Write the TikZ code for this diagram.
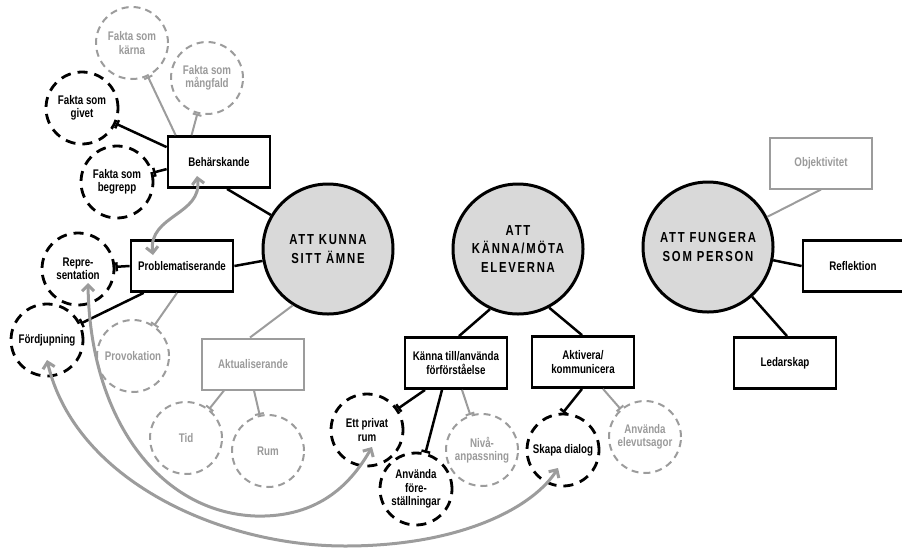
\documentclass[tikz,border=0pt]{standalone}
\usepackage{fontspec}
\setmainfont{Liberation Sans}[FakeStretch=0.78]
\usetikzlibrary{arrows.meta}

\definecolor{hubfill}{HTML}{D9D9D9}
\definecolor{greyline}{HTML}{9C9C9C}
\definecolor{greytext}{HTML}{9A9A9A}

\newcommand{\lblfont}{\bfseries\fontsize{12.5}{13.5}\selectfont}
\newcommand{\hubfont}{\bfseries\fontsize{14.5}{18.5}\selectfont\addfontfeatures{LetterSpace=12}}

\tikzset{
  hub/.style={circle, draw=black, line width=3pt, fill=hubfill, minimum size=130pt,
    inner sep=0pt, align=center, font=\hubfont},
  topic/.style={rectangle, draw=black, line width=2.8pt, minimum width=102pt,
    minimum height=51pt, inner sep=0pt, align=center, font=\lblfont},
  greytopic/.style={topic, draw=greyline, line width=2pt, text=greytext},
  idea/.style={circle, draw=black, line width=2.8pt, dash pattern=on 10pt off 7pt,
    minimum size=72pt, inner sep=0pt, align=center, font=\lblfont},
  greyidea/.style={idea, draw=greyline, line width=2pt, dash pattern=on 7pt off 5pt,
    text=greytext},
  link/.style={draw=black, line width=2.5pt},
  greylink/.style={draw=greyline, line width=2pt},
  barend/.style={-{Bar[width=9pt]}},
  loop/.style={draw=greyline, line width=3pt,
    {Straight Barb[length=6pt,width=12pt]}-{Straight Barb[length=6pt,width=12pt]}}
}

\begin{document}
\begin{tikzpicture}[x=1pt,y=-1pt]
\useasboundingbox (0,0) rectangle (902,550);

% central themes
\node[hub] (kunna)   at (328,249) {ATT KUNNA\\SITT ÄMNE};
\node[hub] (mota)    at (518,249) {ATT\\KÄNNA/MÖTA\\ELEVERNA};
\node[hub] (fungera) at (708,247) {ATT FUNGERA\\SOM PERSON};

% rectangular topics
\node[topic]     (behar)  at (219,162) {Behärskande};
\node[topic]     (probl)  at (182,266) {Problematiserande};
\node[greytopic] (aktual) at (253,364) {Aktualiserande};
\node[topic]     (kanna)  at (456,363) {Känna till/använda\\förförståelse};
\node[topic]     (aktiv)  at (583,362) {Aktivera/\\kommunicera};
\node[greytopic] (objekt) at (821,163) {Objektivitet};
\node[topic, minimum width=100pt] (refl) at (853,266) {Reflektion};
\node[topic]     (ledar)  at (785,363) {Ledarskap};

% dashed ideas
\node[greyidea] (karna)    at (132,43)  {Fakta som\\kärna};
\node[greyidea] (mangfald) at (207,78)  {Fakta som\\mångfald};
\node[idea]     (givet)    at (82,108)  {Fakta som\\givet};
\node[idea]     (begrepp)  at (117,182) {Fakta som\\begrepp};
\node[idea]     (repr)     at (78,269)  {Repre-\\sentation};
\node[idea]     (fordj)    at (47,340)  {Fördjupning};
\node[greyidea] (provok)   at (133,356) {Provokation};
\node[greyidea] (tid)      at (186,438) {Tid};
\node[greyidea] (rum)      at (268,451) {Rum};
\node[idea]     (privat)   at (367,430) {Ett privat\\rum};
\node[idea]     (forest)   at (416,489) {Använda\\före-\\ställningar};
\node[greyidea] (niva)     at (482,450) {Nivå-\\anpassning};
\node[idea]     (dialog)   at (563,450) {Skapa dialog};
\node[greyidea] (elevut)   at (645,437) {Använda\\elevutsagor};

% connectors of the first theme
\draw[greylink, barend] ([xshift=9pt]behar.north west) -- (karna);
\draw[greylink, barend] ([xshift=25pt]behar.north west) -- (mangfald);
\draw[link, barend] ([yshift=-12pt]behar.north west) -- (givet);
\draw[link, barend] ([yshift=-34pt]behar.north west) -- (begrepp);
\draw[link] ([xshift=8pt]behar.south) -- (kunna);
\draw[link] (probl.east) -- (kunna);
\draw[link, barend] (probl.west) -- (repr);
\draw[link, barend] ([xshift=14pt]probl.south west) -- (fordj);
\draw[greylink, barend] ([xshift=-5pt]probl.south) -- (provok);
\draw[greylink] (kunna.-122) -- ([xshift=-3pt]aktual.north);
\draw[greylink, barend] ([xshift=23pt]aktual.south west) -- (tid);
\draw[greylink, barend] ([xshift=1pt]aktual.south) -- (rum);

% connectors of the second theme
\draw[link] (mota.-115) -- ([xshift=3pt]kanna.north);
\draw[link] (mota.-62) -- ([xshift=-1pt]aktiv.north);
\draw[link, barend] ([xshift=-31pt]kanna.south) -- (privat);
\draw[link, barend] ([xshift=-14pt]kanna.south) -- (forest);
\draw[greylink, barend] ([xshift=6pt]kanna.south) -- (niva);
\draw[link, barend] ([xshift=-1pt]aktiv.south) -- (dialog.north);
\draw[greylink, barend] ([xshift=20pt]aktiv.south) -- (elevut);

% connectors of the third theme
\draw[greylink] (fungera) -- (objekt.south);
\draw[link] (fungera) -- (refl.west);
\draw[link] (fungera) -- ([xshift=2pt]ledar.north);

% ends of the grey cross links
\coordinate (beharTip)  at ([shift={(-22,14)}]behar.center);
\coordinate (problTip)  at ([shift={(-29,-11)}]probl.center);
\coordinate (reprTip)   at ([shift={(10,14)}]repr.center);
\coordinate (fordjTip)  at ([shift={(0,20)}]fordj.center);
\coordinate (privatTip) at ([shift={(5,17)}]privat.center);
\coordinate (dialogTip) at ([shift={(-5,18)}]dialog.center);

% grey cross links
\draw[loop] (beharTip) .. controls (203,215) and (148,215) .. (problTip);
\draw[loop] (reprTip) .. controls (90,420) and (160,512) .. (255,516)
  .. controls (320,518) and (352,482) .. (privatTip);
\draw[loop] (fordjTip) .. controls (75,480) and (220,546) .. (345,546)
  .. controls (465,546) and (535,505) .. (dialogTip);
\end{tikzpicture}
\end{document}
